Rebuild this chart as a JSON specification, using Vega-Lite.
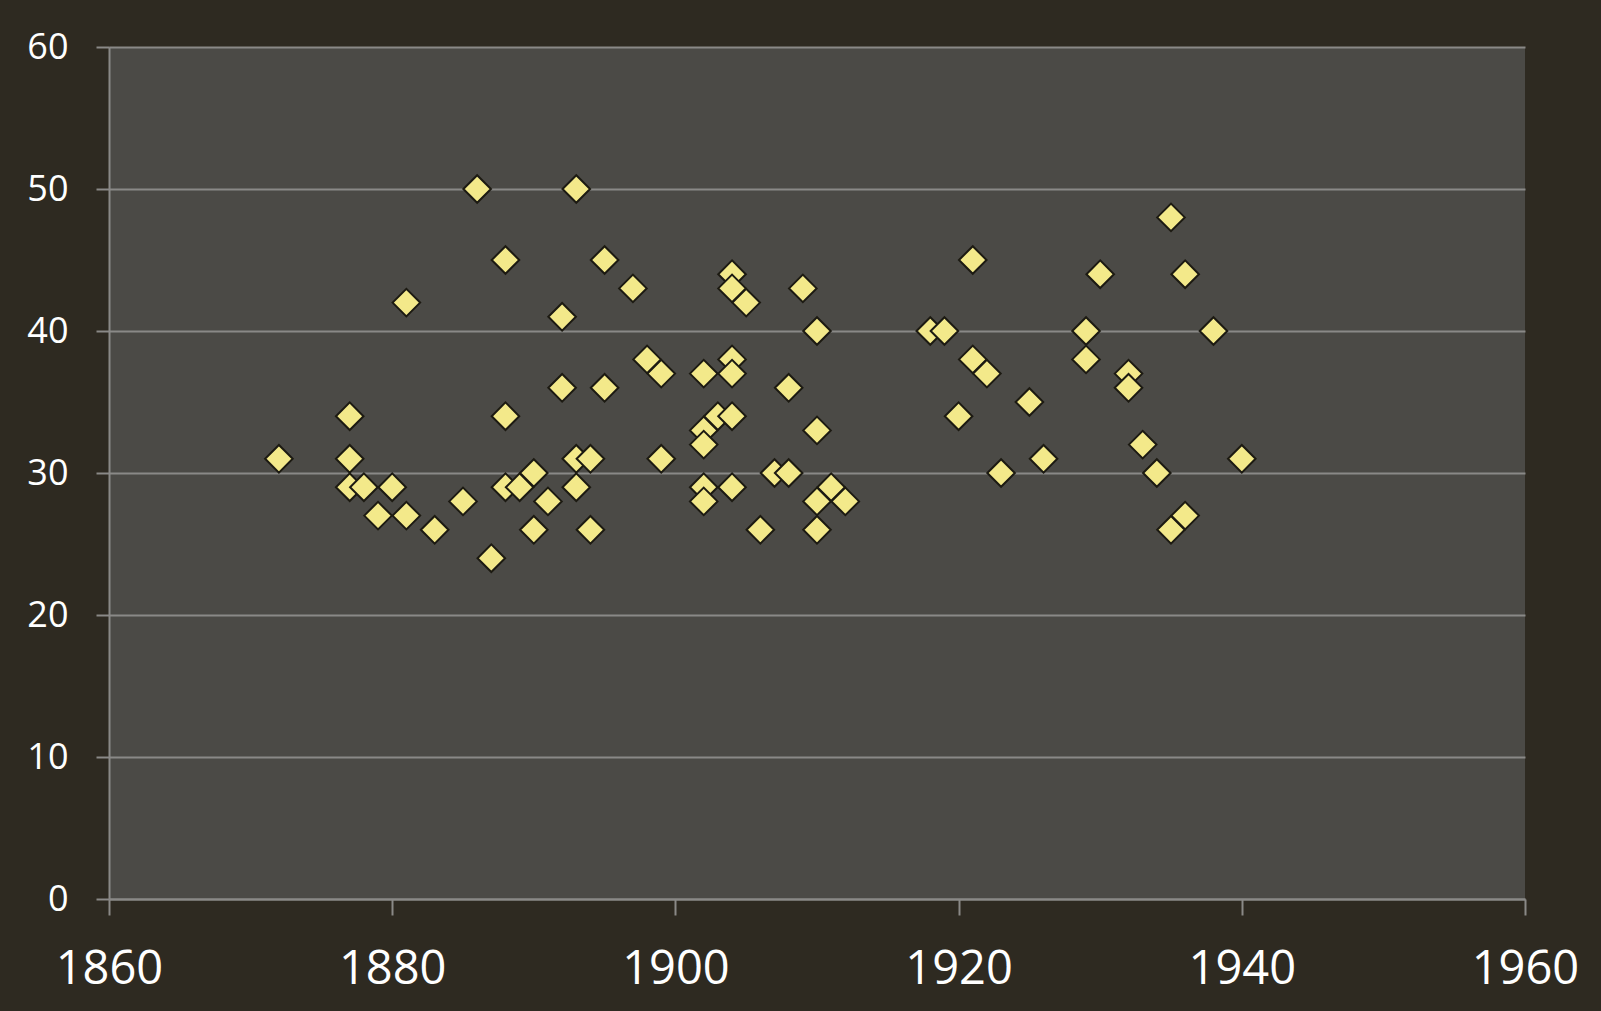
{
  "$schema": "https://vega.github.io/schema/vega-lite/v6.json",
  "width": 1416,
  "height": 852,
  "autosize": {"type": "none"},
  "padding": {"left": 109, "top": 47, "right": 76, "bottom": 112},
  "background": "#2e2a21",
  "config": {
    "view": {"fill": "#4b4a46", "stroke": null},
    "font": "Open Sans"
  },
  "data": {
    "values": [
      {"year": 1872, "value": 31},
      {"year": 1877, "value": 34}, {"year": 1877, "value": 31}, {"year": 1877, "value": 29},
      {"year": 1878, "value": 29},
      {"year": 1879, "value": 27},
      {"year": 1880, "value": 29},
      {"year": 1881, "value": 42}, {"year": 1881, "value": 27},
      {"year": 1883, "value": 26},
      {"year": 1885, "value": 28},
      {"year": 1886, "value": 50},
      {"year": 1887, "value": 24},
      {"year": 1888, "value": 45}, {"year": 1888, "value": 34}, {"year": 1888, "value": 29},
      {"year": 1889, "value": 29},
      {"year": 1890, "value": 30}, {"year": 1890, "value": 26},
      {"year": 1891, "value": 28},
      {"year": 1892, "value": 41}, {"year": 1892, "value": 36},
      {"year": 1893, "value": 50}, {"year": 1893, "value": 31}, {"year": 1893, "value": 29},
      {"year": 1894, "value": 31}, {"year": 1894, "value": 26},
      {"year": 1895, "value": 45}, {"year": 1895, "value": 36},
      {"year": 1897, "value": 43},
      {"year": 1898, "value": 38},
      {"year": 1899, "value": 37}, {"year": 1899, "value": 31},
      {"year": 1902, "value": 37}, {"year": 1902, "value": 33}, {"year": 1902, "value": 32}, {"year": 1902, "value": 29}, {"year": 1902, "value": 28},
      {"year": 1903, "value": 34},
      {"year": 1904, "value": 44}, {"year": 1904, "value": 43}, {"year": 1904, "value": 38}, {"year": 1904, "value": 37}, {"year": 1904, "value": 34}, {"year": 1904, "value": 29},
      {"year": 1905, "value": 42},
      {"year": 1906, "value": 26},
      {"year": 1907, "value": 30},
      {"year": 1908, "value": 36}, {"year": 1908, "value": 30},
      {"year": 1909, "value": 43},
      {"year": 1910, "value": 40}, {"year": 1910, "value": 33}, {"year": 1910, "value": 28}, {"year": 1910, "value": 26},
      {"year": 1911, "value": 29},
      {"year": 1912, "value": 28},
      {"year": 1918, "value": 40},
      {"year": 1919, "value": 40},
      {"year": 1920, "value": 34},
      {"year": 1921, "value": 45}, {"year": 1921, "value": 38},
      {"year": 1922, "value": 37},
      {"year": 1923, "value": 30},
      {"year": 1925, "value": 35},
      {"year": 1926, "value": 31},
      {"year": 1929, "value": 40}, {"year": 1929, "value": 38},
      {"year": 1930, "value": 44},
      {"year": 1932, "value": 37}, {"year": 1932, "value": 36},
      {"year": 1933, "value": 32},
      {"year": 1934, "value": 30},
      {"year": 1935, "value": 48}, {"year": 1935, "value": 26},
      {"year": 1936, "value": 44}, {"year": 1936, "value": 27},
      {"year": 1938, "value": 40},
      {"year": 1940, "value": 31}
    ]
  },
  "mark": {
    "type": "point",
    "shape": "diamond",
    "filled": true,
    "size": 760,
    "fill": "#f3e98a",
    "stroke": "#1c1a12",
    "strokeWidth": 2,
    "opacity": 1
  },
  "encoding": {
    "x": {
      "field": "year",
      "type": "quantitative",
      "scale": {"domain": [1860, 1960], "nice": false, "zero": false},
      "axis": {
        "title": null,
        "values": [1860, 1880, 1900, 1920, 1940, 1960],
        "format": "d",
        "grid": false,
        "domainColor": "#8a8987",
        "domainWidth": 2,
        "tickColor": "#8a8987",
        "tickWidth": 2,
        "tickSize": 16,
        "labelPadding": 31,
        "labelFontSize": 47,
        "labelColor": "#ffffff",
        "labelFont": "Open Sans",
        "labelFlush": false,
        "labelBaseline": "top"
      }
    },
    "y": {
      "field": "value",
      "type": "quantitative",
      "scale": {"domain": [0, 60], "nice": false},
      "axis": {
        "title": null,
        "values": [0, 10, 20, 30, 40, 50, 60],
        "grid": true,
        "gridColor": "#8a8987",
        "gridWidth": 2,
        "domainColor": "#8a8987",
        "domainWidth": 2,
        "tickColor": "#8a8987",
        "tickWidth": 2,
        "tickSize": 13,
        "labelPadding": 28,
        "labelFontSize": 36,
        "labelColor": "#ffffff",
        "labelFont": "Open Sans",
        "labelFlush": false
      }
    }
  }
}
